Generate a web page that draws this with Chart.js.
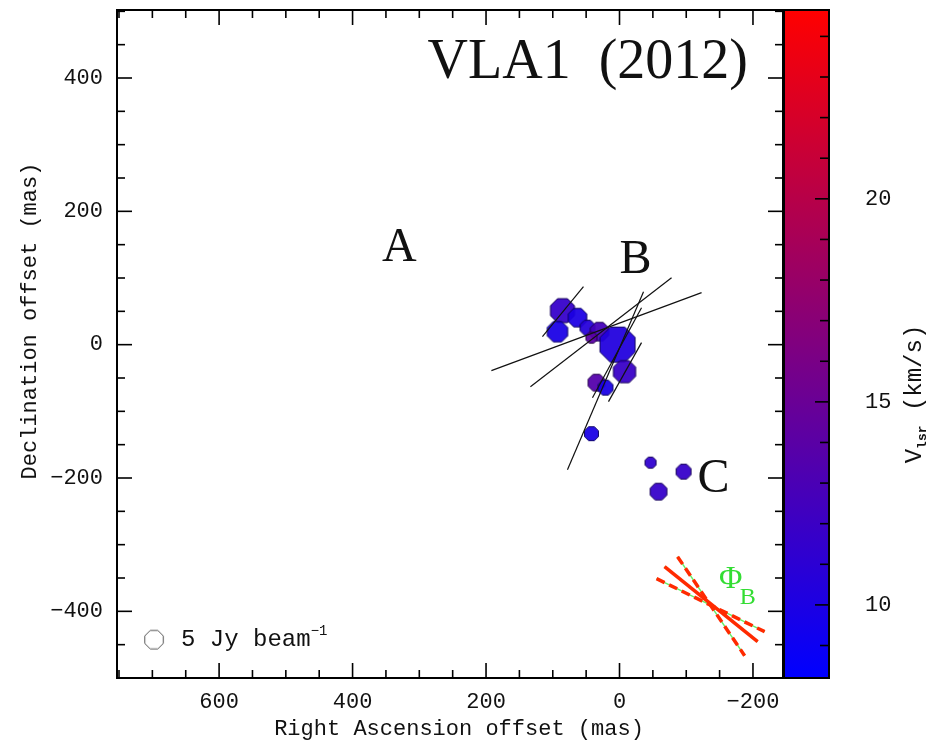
<!DOCTYPE html>
<html>
<head>
<meta charset="utf-8">
<script src="https://cdn.jsdelivr.net/npm/chart.js@4/dist/chart.umd.min.js"></script>
<style>
  html, body { margin: 0; padding: 0; background: #fff; }
</style>
</head>
<body>
<canvas id="chart" width="935" height="742"></canvas>
<script>
// maser spots: offsets in mas, peak flux in Jy/beam, Vlsr in km/s
const maserRA   = [85.5, 93, 63, 48, 30, 42, 3, -7.5, 34.5, 21, 42, -46.5, -58.5, -96];
const maserDec  = [51, 19.5, 40.5, 25.5, 19.5, 10.5, 0, -40.5, -57, -64.5, -133.5, -177, -220.5, -190.5];
const maserFlux = [6.5, 5.5, 5, 4, 5, 3, 9.5, 6, 4.5, 4, 3.75, 3, 4.5, 4];
const maserVlsr = [11.6, 9.8, 10, 10.6, 12.6, 14, 10.3, 11.8, 13.6, 9.8, 9.9, 11.3, 11.6, 11.6];

// polarization vectors (start / end, mas)
const vecRA1  = [115.5, 192, 133.5, 78, 40.5, 16.5];
const vecDec1 = [12, -39, -63, -187.5, -79.5, -85.5];
const vecRA2  = [54, -123, -78, -36, -33, -33];
const vecDec2 = [87, 78, 100.5, 79.5, 55.5, 3];

// magnetic field direction Phi_B (best + errors)
const phiRA1  = [-67.5, -87, -55.5];
const phiDec1 = [-333, -318, -351];
const phiRA2  = [-207, -187.5, -217.5];
const phiDec2 = [-445.5, -466.5, -430.5];
const phiDashed = [false, true, true];

// flux scale reference
const legendFlux = 5;
const legendRA = 697.5, legendDec = -442.5;

// axes
const raRange = [-245, 753];
const decRange = [-500, 502];
const vRange = [8.2, 24.65];
const raTicks = [600, 400, 200, 0, -200];
const decTicks = [400, 200, 0, -200, -400];
const vTicks = [10, 15, 20];

const monoFont = '"Liberation Mono", "DejaVu Sans Mono", monospace';
const serifFont = '"Liberation Serif", "DejaVu Serif", serif';

function velColor(v, alpha) {
  const t = Math.max(0, Math.min(1, (v - vRange[0]) / (vRange[1] - vRange[0])));
  const r = Math.round(255 * t), b = Math.round(255 * (1 - t));
  return alpha == null ? `rgb(${r},0,${b})` : `rgba(${r},0,${b},${alpha})`;
}
function velStroke(v) {
  const t = Math.max(0, Math.min(1, (v - vRange[0]) / (vRange[1] - vRange[0])));
  return `rgb(${Math.round(110 * t)},0,${Math.round(110 * (1 - t))})`;
}
const fluxRadius = f => 2 * f;

function octagon(r, fill, stroke) {
  const c = document.createElement('canvas');
  const s = Math.ceil(2 * r + 4);
  c.width = c.height = s;
  const g = c.getContext('2d');
  g.beginPath();
  for (let k = 0; k < 8; k++) {
    const ang = Math.PI / 8 + k * Math.PI / 4;
    const px = s / 2 + r * Math.cos(ang), py = s / 2 + r * Math.sin(ang);
    k ? g.lineTo(px, py) : g.moveTo(px, py);
  }
  g.closePath();
  if (fill) { g.fillStyle = fill; g.fill(); }
  g.strokeStyle = stroke;
  g.lineWidth = 1;
  g.stroke();
  return c;
}

const minus = v => (v < 0 ? '\u2212' + Math.abs(v) : String(v));

// fixed axis boxes, no extra label padding around the plot
const fixBox = size => s => {
  if (s.isHorizontal()) s.height = size; else s.width = size;
  s.paddingTop = s.paddingBottom = s.paddingLeft = s.paddingRight = 0;
};

const datasets = [];
// Phi_B lines: red on top of a thin green line
phiRA1.forEach((ra, i) => {
  const pts = [{x: ra, y: phiDec1[i]}, {x: phiRA2[i], y: phiDec2[i]}];
  datasets.push({data: pts, showLine: true, pointRadius: 0, borderColor: '#ff2a00',
    borderWidth: 3.5, borderDash: phiDashed[i] ? [9, 5] : [], order: 0});
  datasets.push({data: pts, showLine: true, pointRadius: 0, borderColor: '#66ee66',
    borderWidth: 1.5, order: 1});
});
// polarization vectors
vecRA1.forEach((ra, i) => {
  datasets.push({data: [{x: ra, y: vecDec1[i]}, {x: vecRA2[i], y: vecDec2[i]}],
    showLine: true, pointRadius: 0, borderColor: '#111', borderWidth: 1.2, order: 1});
});
// maser spots
datasets.push({
  data: maserRA.map((ra, i) => ({x: ra, y: maserDec[i]})),
  pointRadius: maserFlux.map(fluxRadius),
  pointStyle: maserFlux.map((f, i) => octagon(fluxRadius(f), velColor(maserVlsr[i], 0.94), velStroke(maserVlsr[i]))),
  order: 2
});
// flux legend octagon
datasets.push({
  data: [{x: legendRA, y: legendDec}],
  pointRadius: fluxRadius(legendFlux),
  pointStyle: octagon(fluxRadius(legendFlux), null, '#555'),
  order: 2
});

const frame = {
  id: 'frame',
  afterDraw(chart) {
    const {ctx, chartArea: a, scales: {x, y, v}} = chart;
    const seg = (x1, y1, x2, y2) => { ctx.beginPath(); ctx.moveTo(x1, y1); ctx.lineTo(x2, y2); ctx.stroke(); };
    ctx.save();
    ctx.strokeStyle = '#000';
    ctx.lineWidth = 1.6;
    for (let m = -250; m <= 750; m += 50) {
      const px = x.getPixelForValue(m);
      if (px <= a.left || px >= a.right) continue;
      const len = m % 200 === 0 ? 15 : 8;
      seg(px, a.bottom, px, a.bottom - len);
      seg(px, a.top, px, a.top + len);
    }
    for (let m = -500; m <= 500; m += 50) {
      const py = y.getPixelForValue(m);
      if (py <= a.top || py >= a.bottom) continue;
      const len = m % 200 === 0 ? 15 : 8;
      seg(a.left, py, a.left + len, py);
      seg(a.right, py, a.right - len, py);
    }
    ctx.lineWidth = 2;
    ctx.strokeRect(a.left, a.top, a.right - a.left, a.bottom - a.top);

    // colour bar
    const cbL = a.right + 1, cbR = a.right + 46;
    const g = ctx.createLinearGradient(0, v.getPixelForValue(vRange[0]), 0, v.getPixelForValue(vRange[1]));
    g.addColorStop(0, velColor(vRange[0]));
    g.addColorStop(1, velColor(vRange[1]));
    ctx.fillStyle = g;
    ctx.fillRect(cbL, a.top, cbR - cbL, a.bottom - a.top);
    ctx.lineWidth = 1.6;
    for (let k = 9; k <= 24; k++) {
      const py = v.getPixelForValue(k);
      seg(cbR, py, cbR - (k % 5 === 0 ? 14 : 9), py);
    }
    ctx.lineWidth = 2;
    ctx.strokeRect(cbL, a.top, cbR - cbL, a.bottom - a.top);

    ctx.fillStyle = '#111';
    ctx.font = `22px ${monoFont}`;
    ctx.textAlign = 'left';
    ctx.textBaseline = 'middle';
    vTicks.forEach(t => ctx.fillText(String(t), cbR + 36, v.getPixelForValue(t)));

    // titles of axes
    ctx.textAlign = 'center';
    ctx.fillText('Right Ascension offset (mas)', 459, 729);
    ctx.save();
    ctx.translate(30, 321);
    ctx.rotate(-Math.PI / 2);
    ctx.fillText('Declination offset (mas)', 0, 0);
    ctx.restore();

    ctx.save();
    ctx.translate(915, 394);
    ctx.rotate(-Math.PI / 2);
    ctx.textAlign = 'left';
    ctx.font = `24px ${monoFont}`;
    const wV = ctx.measureText('V').width;
    const wRest = ctx.measureText(' (km/s)').width;
    ctx.font = `bold 13px ${monoFont}`;
    const wSub = ctx.measureText('lsr').width;
    let sx = -(wV + wSub + wRest) / 2;
    ctx.font = `24px ${monoFont}`;
    ctx.fillText('V', sx, 0);
    sx += wV;
    ctx.font = `bold 13px ${monoFont}`;
    ctx.fillText('lsr', sx, 8);
    sx += wSub;
    ctx.font = `24px ${monoFont}`;
    ctx.fillText(' (km/s)', sx, 0);
    ctx.restore();

    // flux legend text
    const lx = x.getPixelForValue(legendRA) + 27, ly = y.getPixelForValue(legendDec);
    ctx.textAlign = 'left';
    ctx.font = `24px ${monoFont}`;
    ctx.fillText('5 Jy beam', lx, ly);
    const wl = ctx.measureText('5 Jy beam').width;
    ctx.font = `14px ${monoFont}`;
    ctx.fillText('\u22121', lx + wl, ly - 8);

    // region labels and title
    ctx.font = `48px ${serifFont}`;
    ctx.textAlign = 'center';
    ctx.fillText('A', x.getPixelForValue(330), y.getPixelForValue(145));
    ctx.fillText('B', x.getPixelForValue(-24), y.getPixelForValue(126));
    ctx.fillText('C', x.getPixelForValue(-141), y.getPixelForValue(-202));
    ctx.font = `56px ${serifFont}`;
    ctx.textAlign = 'right';
    ctx.textBaseline = 'alphabetic';
    ctx.fillText('VLA1  (2012)', a.right - 35, a.top + 68);

    // Phi_B label
    ctx.fillStyle = '#33dd33';
    ctx.textAlign = 'center';
    ctx.textBaseline = 'middle';
    ctx.font = `32px ${serifFont}`;
    ctx.fillText('\u03A6', x.getPixelForValue(-166.5), y.getPixelForValue(-352));
    ctx.font = `24px ${serifFont}`;
    ctx.fillText('B', x.getPixelForValue(-192), y.getPixelForValue(-380));
    ctx.restore();
  }
};

new Chart(document.getElementById('chart'), {
  type: 'scatter',
  data: {datasets},
  options: {
    responsive: false,
    animation: false,
    devicePixelRatio: 1,
    layout: {autoPadding: false, padding: {top: 10, left: 0, right: 0, bottom: 0}},
    plugins: {legend: {display: false}, tooltip: {enabled: false}},
    scales: {
      x: {
        type: 'linear', reverse: true, min: raRange[0], max: raRange[1],
        afterBuildTicks: s => { s.ticks = raTicks.map(value => ({value})); },
        afterFit: fixBox(64),
        grid: {display: false, drawTicks: false},
        border: {display: false},
        ticks: {padding: 11, color: '#111', font: {family: monoFont, size: 22}, callback: minus, autoSkip: false, maxRotation: 0}
      },
      y: {
        type: 'linear', min: decRange[0], max: decRange[1],
        afterBuildTicks: s => { s.ticks = decTicks.map(value => ({value})); },
        afterFit: fixBox(117),
        grid: {display: false, drawTicks: false},
        border: {display: false},
        ticks: {padding: 14, color: '#111', font: {family: monoFont, size: 22}, callback: minus, autoSkip: false}
      },
      v: {
        type: 'linear', position: 'right', min: vRange[0], max: vRange[1],
        afterFit: fixBox(152),
        grid: {display: false, drawTicks: false},
        border: {display: false},
        ticks: {display: false}
      }
    }
  },
  plugins: [frame]
});
</script>
</body>
</html>
